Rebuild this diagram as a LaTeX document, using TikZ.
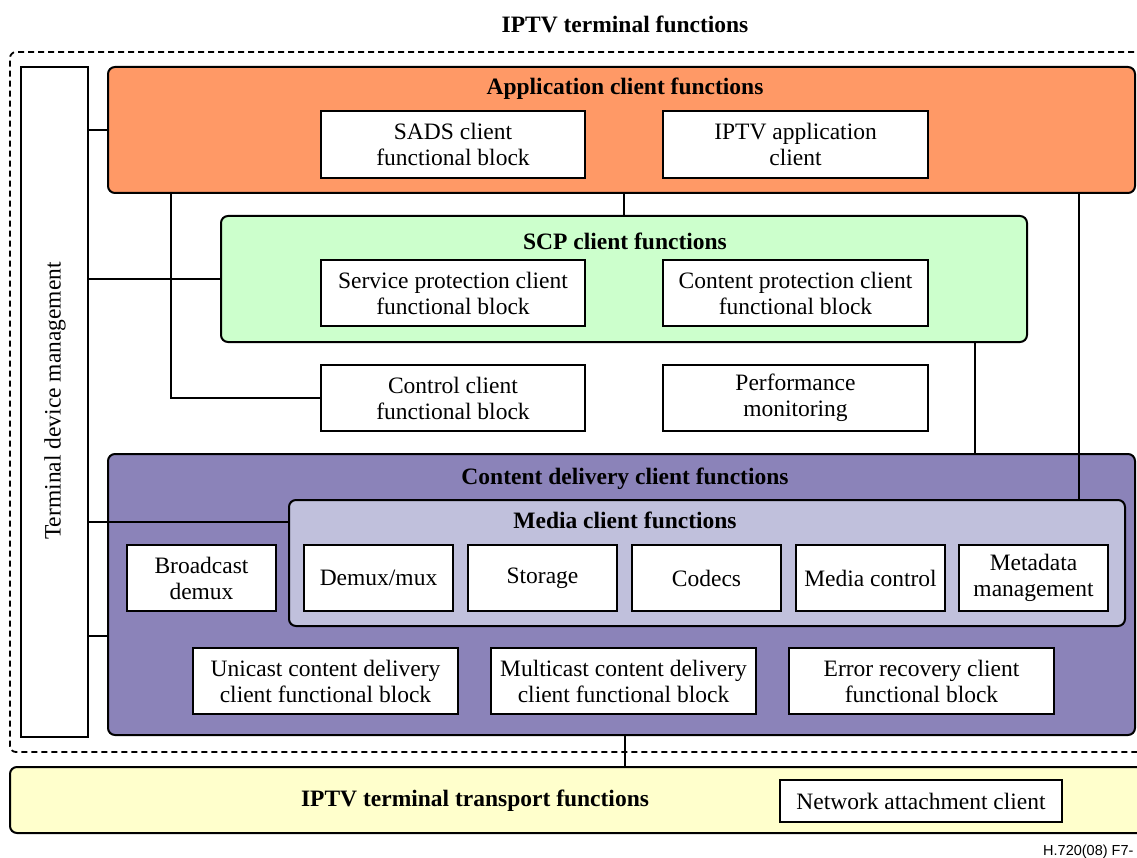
\documentclass[tikz,border=0pt]{standalone}
\usepackage{fontspec}
\setmainfont{Liberation Serif}
\setsansfont{Liberation Sans}
\begin{document}
\begin{tikzpicture}[x=1pt,y=-1pt,
  every node/.style={font=\fontsize{23.5}{26}\selectfont},
  blk/.style={draw, fill=white, line width=2pt, align=center, inner sep=0pt},
  grp/.style={draw, line width=2pt, rounded corners=7pt, inner sep=0pt},
  ttl/.style={font=\fontsize{23.5}{26}\selectfont\bfseries},
  conn/.style={line width=2.6pt}]
\clip (0,0) rectangle (1137,858);
\useasboundingbox (0,0) rectangle (1137,858);
\fill[white] (0,0) rectangle (1137,858);
\definecolor{appc}{RGB}{255,153,102}
\definecolor{scpc}{RGB}{204,255,204}
\definecolor{cdc}{RGB}{139,131,185}
\definecolor{mcc}{RGB}{192,192,220}
\definecolor{trc}{RGB}{255,255,204}

\node[ttl] (title) at (625,24) {IPTV terminal functions};
\node[draw, dash pattern=on 6pt off 4pt, line width=1.8pt, rounded corners=6pt, minimum width=1160, minimum height=700, inner sep=0pt] (term) at (590,402) {};

% transport
\node[grp, fill=trc, minimum width=1140, minimum height=66] (tr) at (580,800) {};
\node[ttl] (trt) at (475,801) {IPTV terminal transport functions};
\node[blk, minimum width=282, minimum height=42] (nac) at (921,801) {Network attachment client};

% terminal device management
\node[blk, minimum width=67, minimum height=670] (tdm) at (54.5,402) {};
\node[rotate=90] (tdmt) at (55,401) {Terminal device management};

% application
\node[grp, fill=appc, minimum width=1027, minimum height=126] (app) at (621.5,130) {};
\node[ttl] (appt) at (625,89) {Application client functions};
\node[blk, minimum width=264, minimum height=67] (sads) at (453,144.5) {SADS client\\functional block};
\node[blk, minimum width=265, minimum height=67] (iptvapp) at (795.5,144.5) {IPTV application\\client};

% SCP
\node[grp, fill=scpc, minimum width=806, minimum height=126] (scp) at (624,279) {};
\node[ttl] (scpt) at (625,241) {SCP client functions};
\node[blk, minimum width=264, minimum height=66] (spc) at (453,293) {Service protection client\\functional block};
\node[blk, minimum width=265, minimum height=66] (cpc) at (795.5,293) {Content protection client\\functional block};

% middle
\node[blk, minimum width=264, minimum height=66] (ctrl) at (453,398) {Control client\\functional block};
\node[blk, minimum width=265, minimum height=66] (perf) at (795.5,398) {Performance\\monitoring};

% content delivery
\node[grp, fill=cdc, minimum width=1027, minimum height=281] (cd) at (621.5,594.5) {};
\node[ttl] (cdt) at (625,479) {Content delivery client functions};
\node[grp, fill=mcc, minimum width=836, minimum height=126] (mc) at (707,563) {};
\node[ttl] (mct) at (625,520) {Media client functions};
\node[blk, minimum width=149, minimum height=66] (bd) at (201.5,578) {Broadcast\\demux};
\node[blk, minimum width=149, minimum height=66] (dm) at (378.5,578) {Demux/mux};
\node[blk, minimum width=149, minimum height=66] (st) at (542.5,578) {Storage};
\node[blk, minimum width=149, minimum height=66] (co) at (706.5,578) {Codecs};
\node[blk, minimum width=149, minimum height=66] (mctl) at (870.5,578) {Media control};
\node[blk, minimum width=149, minimum height=66] (md) at (1033.5,578) {Metadata\\management};
\node[blk, minimum width=265, minimum height=66] (uc) at (325.5,681) {Unicast content delivery\\client functional block};
\node[blk, minimum width=265, minimum height=66] (mcd) at (623.5,681) {Multicast content delivery\\client functional block};
\node[blk, minimum width=265, minimum height=66] (er) at (921.5,681) {Error recovery client\\functional block};

% connectors
\draw[conn] (tdm.east |- app.west) -- (app.west);
\draw[conn] (tdm.east |- scp.west) -- (scp.west);
\draw[conn] (tdm.east |- 0,522) -- (mc.west |- 0,522);
\draw[conn] (tdm.east |- 0,636) -- (cd.west |- 0,636);
\draw[conn] (app.south -| scp.north) -- (scp.north);
\draw[conn] (app.south -| 171,0) |- (ctrl.west);
\draw[conn] (app.south -| 1079,0) -- (mc.north -| 1079,0);
\draw[conn] (scp.south -| 975,0) -- (cd.north -| 975,0);
\draw[conn] (cd.south -| 625,0) -- (tr.north -| 625,0);

\node[font=\sffamily\fontsize{14.5}{16}\selectfont, anchor=base east] (ref) at (1137,855) {H.720(08) F7-};
\end{tikzpicture}
\end{document}
